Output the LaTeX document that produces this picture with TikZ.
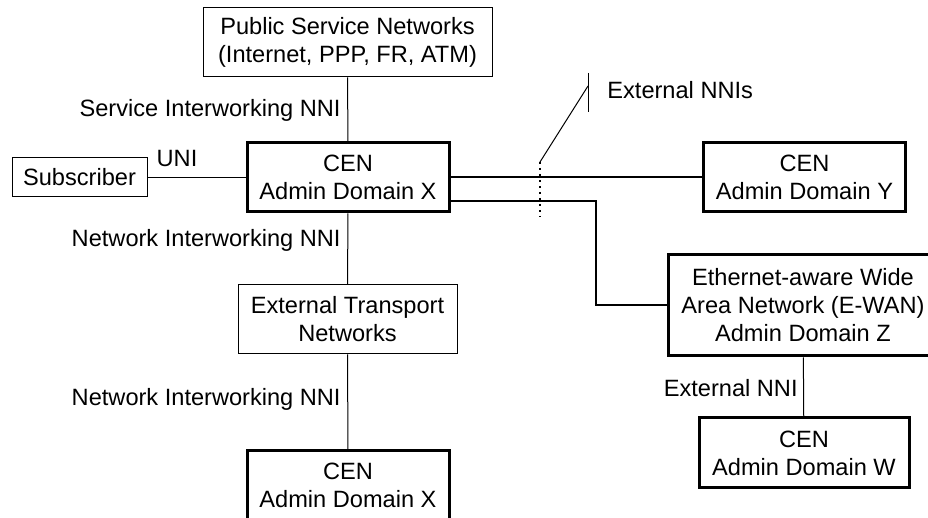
\documentclass[tikz,border=0pt]{standalone}
\usepackage{fontspec}
\setmainfont{Liberation Sans}
\usepackage{tikz}
\tikzstyle{net}=[draw,line width=0.5pt,inner sep=0pt,align=center]
\tikzstyle{cen}=[draw,line width=1.5pt,inner sep=0pt,align=center,minimum width=101pt,minimum height=34.5pt]
\tikzstyle{link}=[line width=0.5pt]
\tikzstyle{lab}=[inner sep=0pt,anchor=base east]

\begin{document}
\begin{tikzpicture}[x=0.5pt,y=-0.5pt,font=\fontsize{11.8pt}{14pt}\selectfont]
    \useasboundingbox (0,0) rectangle (928,518);
    % boxes
    \node[net,minimum width=144.5pt,minimum height=34.5pt] (psn) at (347.5,42.5) {Public Service Networks\\(Internet, PPP, FR, ATM)};
    \node[cen] (cenx) at (348,177.5) {CEN\\Admin Domain X};
    \node[net,minimum width=67.5pt,minimum height=19.5pt] (sub) at (79.5,177.5) {Subscriber};
    \node[net,minimum width=109.5pt,minimum height=34.5pt] (etn) at (347.5,319.5) {External Transport\\Networks};
    \node[cen] (cenxb) at (348,485.5) {CEN\\Admin Domain X};
    \node[cen] (ceny) at (804.5,177.5) {CEN\\Admin Domain Y};
    \node[cen,minimum width=135pt,minimum height=50.5pt] (ewan) at (803,305.5) {Ethernet-aware Wide\\Area Network (E-WAN)\\Admin Domain Z};
    \node[cen,minimum width=105pt,minimum height=35pt] (cenw) at (804,453) {CEN\\Admin Domain W};

    % links
    \draw [link] (psn) -- (cenx);
    \draw [link] (sub) -- (cenx);
    \draw [link] (cenx) -- (etn);
    \draw [link] (etn) -- (cenxb);
    \draw [link] (ewan) -- (cenw);
    \draw [line width=1pt] (cenx) -- (ceny);
    \coordinate (xtap) at (449,201);
    \coordinate (elbow) at (596,305.5);
    \draw [line width=1pt] (xtap) -| (elbow) -- (ewan.west);

    % external NNI marker
    \coordinate (dtop) at (540,162);
    \coordinate (dbot) at (540,217);
    \coordinate (tick) at (588,86);
    \draw [line width=1pt,dotted] (dtop) -- (dbot);
    \draw [link] (dtop) -- (tick);
    \draw [link] (588,73) -- (588,112);
    \node[inner sep=0pt,anchor=base west] (enni) at (607,99) {External NNIs};

    % labels
    \node[lab] (sinni) at (341,117) {Service Interworking NNI};
    \node[lab] (ninnia) at (341,247) {Network Interworking NNI};
    \node[lab] (ninnib) at (341,406) {Network Interworking NNI};
    \node[lab] (ennia) at (798,397) {External NNI};
    \node[inner sep=0pt,anchor=base] (uni) at (177,167) {UNI};
  \end{tikzpicture}
\end{document}
